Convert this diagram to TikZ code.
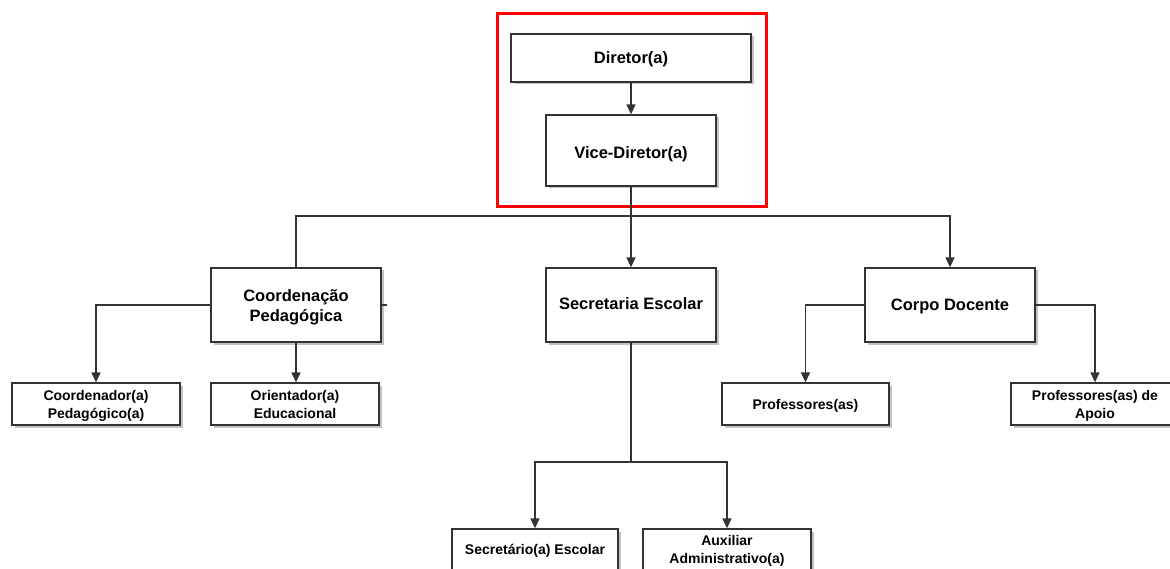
\documentclass[tikz,border=0pt]{standalone}
\usepackage{fontspec}
\setmainfont{Liberation Sans}
\usetikzlibrary{arrows.meta,shadows}
% box label: centred lines, lowered by #1 without changing the box size
\newcommand\boxtext[2][2pt]{\raisebox{-#1}[\height][\depth]{\begin{tabular}{@{}c@{}}#2\end{tabular}}}
\begin{document}
\begin{tikzpicture}[x=1pt,y=-1pt,
  box/.style={draw=black!80, line width=1.3pt, fill=white,
    inner sep=0pt,
    drop shadow={shadow xshift=2.5pt, shadow yshift=-2.5pt, fill=black!40, opacity=0.6}},
  bigbox/.style={box, font=\fontsize{16.5}{20}\selectfont\bfseries},
  smallbox/.style={box, font=\fontsize{14}{17.5}\selectfont\bfseries},
  link/.style={draw=black!80, line width=1.4pt},
  arrow/.style={link, -{Triangle[length=10pt,width=9pt]}},
]
\useasboundingbox (0,0) rectangle (1170,569);
\clip (0,0) rectangle (1170,569);

% leadership
\node[bigbox, minimum width=240pt, minimum height=48pt] (dir) at (631,58) {\boxtext{Diretor(a)}};
\node[bigbox, minimum width=170pt, minimum height=71pt] (vice) at (631,150.5) {\boxtext[4.5pt]{Vice-Diretor(a)}};
\draw[red, line width=3pt] (497,14) rectangle (766,207);

% second level
\node[bigbox, minimum width=170pt, minimum height=74pt] (coord) at (296,305) {\boxtext[2.5pt]{Coordenação\\Pedagógica}};
\node[bigbox, minimum width=170pt, minimum height=74pt] (sec) at (631,305) {\boxtext[1pt]{Secretaria Escolar}};
\node[bigbox, minimum width=170pt, minimum height=74pt] (corpo) at (950,305) {\boxtext[1.5pt]{Corpo Docente}};

% third level
\node[smallbox, minimum width=168pt, minimum height=42pt] (cped) at (96,404) {\boxtext{Coordenador(a)\\Pedagógico(a)}};
\node[smallbox, minimum width=168pt, minimum height=42pt] (orient) at (295,404) {\boxtext{Orientador(a)\\Educacional}};
\node[smallbox, minimum width=167pt, minimum height=42pt] (prof) at (805.5,404) {\boxtext{Professores(as)}};
\node[smallbox, minimum width=168pt, minimum height=42pt] (apoio) at (1095,404) {\boxtext{Professores(as) de\\Apoio}};
\node[smallbox, minimum width=166pt, minimum height=42pt] (secr) at (535,550) {\boxtext[1pt]{Secretário(a) Escolar}};
\node[smallbox, minimum width=168pt, minimum height=42pt] (aux) at (727,550) {\boxtext[1pt]{Auxiliar\\Administrativo(a)}};

% connectors
\coordinate (j1) at (631,216);
\coordinate (j2) at (631,462);
\draw[arrow] (dir) -- (vice);
\draw[arrow] (vice) -- (sec);
\draw[link] (j1) -| (coord.north);
\draw[arrow] (j1) -| (corpo.north);
\draw[arrow] (coord.west) -| (cped.north);
\draw[link] (coord.east) -- ++(5,0);
\draw[arrow] (coord.south) -- (coord.south |- orient.north);
\draw[link] (sec.south) -- (j2);
\draw[arrow] (j2) -| (secr.north);
\draw[arrow] (j2) -| (aux.north);
\draw[arrow] (corpo.west) -| (prof.north);
\draw[arrow] (corpo.east) -| (apoio.north);
\end{tikzpicture}
\end{document}
